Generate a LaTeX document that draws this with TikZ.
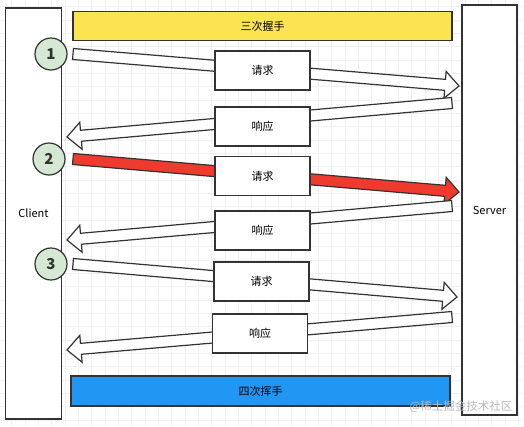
\documentclass[tikz,border=0pt]{standalone}
\usepackage{fontspec}
\setmainfont{Noto Sans CJK SC}
\usetikzlibrary{calc}
\definecolor{myyellow}{HTML}{FBE44F}
\definecolor{myblue}{HTML}{2196F3}
\definecolor{myred}{HTML}{EE3B2E}
\definecolor{mygreen}{HTML}{D5E8D4}
\definecolor{mydark}{HTML}{333333}
\tikzset{
	hostnode/.style={
			shape=rectangle,
			draw=mydark,
			line width=1.2pt,
			fill=white,
			minimum width=56pt,
			minimum height=411pt,
			inner sep=0pt,
			font=\fontsize{11}{11}\selectfont
		},
	msgnode/.style={
			shape=rectangle,
			draw=mydark,
			line width=1.2pt,
			fill=white,
			minimum width=95pt,
			minimum height=39pt,
			inner sep=0pt,
			font=\fontsize{11}{11}\selectfont
		},
	barnode/.style={
			msgnode,
			minimum width=379pt,
			minimum height=29pt
		},
	stepnode/.style={
			circle,
			draw=mydark,
			line width=1.2pt,
			fill=mygreen,
			minimum size=32pt,
			inner sep=0pt,
			text=mydark,
			font=\fontsize{15}{15}\selectfont\bfseries
		},
	arrowline/.style={
			draw=mydark,
			line width=1.2pt,
			line join=miter
		},
	gridline/.style={draw=gray!12, line width=0.5pt}
}
\newcommand{\fatarrow}[3][white]{%
	\coordinate (fa-base) at ($(#3)!14pt!(#2)$);
	\draw[arrowline, fill=#1] ($(#2)!5.5pt!90:(#3)$) -- ($(fa-base)!5.5pt!90:(#3)$)
		-- ($(fa-base)!13.5pt!90:(#3)$) -- (#3) -- ($(fa-base)!13.5pt!-90:(#3)$)
		-- ($(fa-base)!5.5pt!-90:(#3)$) -- ($(#2)!5.5pt!-90:(#3)$) -- cycle;
}
\begin{document}
\begin{tikzpicture}[x=1pt, y=-1pt]
				\useasboundingbox[fill=white] (0,0) rectangle (524,426);
				\foreach \gx in {0,...,39} \draw[gridline] (11.7+\gx*13.33,0) -- (11.7+\gx*13.33,426);
				\foreach \gy in {0,...,31} \draw[gridline] (0,6.7+\gy*13.33) -- (524,6.7+\gy*13.33);

				\node[hostnode] (client) at (33.5,213.5) {Client};
				\node[hostnode, minimum width=55pt, minimum height=410pt] (server) at (489.5,210) {Server};

				\node[barnode, fill=myyellow] (three) at (262.5,26) {三次握手};
				\node[barnode, fill=myblue, minimum height=30pt] (four) at (260.5,391) {四次挥手};

				\coordinate (rq1s) at (73,54);   \coordinate (rq1e) at (459,86);
				\coordinate (rs1s) at (452,103); \coordinate (rs1e) at (67,137);
				\coordinate (rq2s) at (73,159);  \coordinate (rq2e) at (459,192);
				\coordinate (rs2s) at (452,206); \coordinate (rs2e) at (67,240);
				\coordinate (rq3s) at (73,264);  \coordinate (rq3e) at (457,297);
				\coordinate (rs3s) at (452,317); \coordinate (rs3e) at (67,350);

				\fatarrow{rq1s}{rq1e}
				\fatarrow{rs1s}{rs1e}
				\fatarrow[myred]{rq2s}{rq2e}
				\fatarrow{rs2s}{rs2e}
				\fatarrow{rq3s}{rq3e}
				\fatarrow{rs3s}{rs3e}

				\node[msgnode] (req1) at (262.5,70.5) {请求};
				\node[msgnode] (res1) at (262.5,126.5) {响应};
				\node[msgnode] (req2) at (262.5,176) {请求};
				\node[msgnode] (res2) at (262.5,230.5) {响应};
				\node[msgnode] (req3) at (261.5,281.5) {请求};
				\node[msgnode] (res3) at (260,333.5) {响应};

				\node[stepnode] (s1) at (51,54) {1};
				\node[stepnode] (s2) at (49,159) {2};
				\node[stepnode] (s3) at (51,264) {3};

				\node[text=gray!55, font=\fontsize{11.5}{11.5}\selectfont] (mark) at (461,407) {@稀土掘金技术社区};
			\end{tikzpicture}
\end{document}
